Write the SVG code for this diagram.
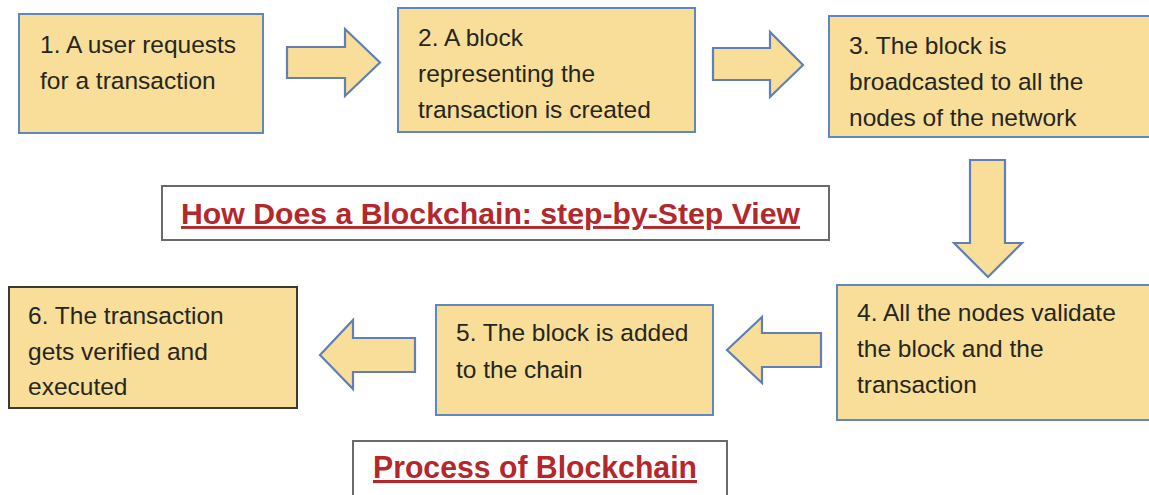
<svg xmlns="http://www.w3.org/2000/svg" width="1149" height="495" viewBox="0 0 1149 495">
<style>
.box{fill:#f8de98;stroke:#5f87c2;stroke-width:2}
.box6{fill:#f8de98;stroke:#3d3a30;stroke-width:2}
.arr{fill:#f8de98;stroke:#5f7fb6;stroke-width:2.2;stroke-linejoin:miter}
.t{font-family:"Liberation Sans",Arial,sans-serif;font-size:24.5px;fill:#262620}
.title{fill:#fff;stroke:#6a6a6a;stroke-width:2}
.tt{font-family:"Liberation Sans",Arial,sans-serif;font-weight:bold;fill:#b3282c;text-decoration:underline}
</style>
<rect width="1149" height="495" fill="#fff"/>
<g id="connectors">
<polygon class="arr" points="287,47 345,47 345,29 380,62.5 345,96 345,78 287,78"/>
<polygon class="arr" points="713,48 770,48 770,32 803,65 770,97 770,80 713,80"/>
<polygon class="arr" points="970,160 1005,160 1005,243 1022,243 988,277 954,243 970,243"/>
<polygon class="arr" points="821,333 762,333 762,317 727,350 762,383 762,367 821,367"/>
<polygon class="arr" points="415,338 353,338 353,320 320,355 353,389 353,372 415,372"/>
</g>
<g id="node1">
<rect class="box" x="19" y="14" width="244" height="119"/>
<text class="t" x="40" y="53">1. A user requests</text>
<text class="t" x="40" y="89">for a transaction</text>
</g>
<g id="node2">
<rect class="box" x="398" y="8" width="297" height="124"/>
<text class="t" x="418" y="46">2. A block</text>
<text class="t" x="418" y="82">representing the</text>
<text class="t" x="418" y="118">transaction is created</text>
</g>
<g id="node3">
<rect class="box" x="829" y="16" width="330" height="121"/>
<text class="t" x="849" y="54">3. The block is</text>
<text class="t" x="849" y="90">broadcasted to all the</text>
<text class="t" x="849" y="126">nodes of the network</text>
</g>
<g id="node4">
<rect class="box" x="837" y="285" width="320" height="135"/>
<text class="t" x="857" y="321">4. All the nodes validate</text>
<text class="t" x="857" y="357">the block and the</text>
<text class="t" x="857" y="393">transaction</text>
</g>
<g id="node5">
<rect class="box" x="436" y="305" width="277" height="110"/>
<text class="t" x="456" y="341">5. The block is added</text>
<text class="t" x="456" y="378">to the chain</text>
</g>
<g id="node6">
<rect class="box6" x="9" y="287" width="288" height="121"/>
<text class="t" x="28" y="324">6. The transaction</text>
<text class="t" x="28" y="360">gets verified and</text>
<text class="t" x="28" y="395">executed</text>
</g>
<g id="title1">
<rect class="title" x="162" y="186" width="667" height="54"/>
<text class="tt" x="181" y="224" font-size="29" textLength="619" lengthAdjust="spacingAndGlyphs">How Does a Blockchain: step-by-Step View</text>
</g>
<g id="title2">
<rect class="title" x="353" y="441" width="374" height="64"/>
<text class="tt" x="373" y="478" font-size="31" textLength="324" lengthAdjust="spacingAndGlyphs">Process of Blockchain</text>
</g>
</svg>
